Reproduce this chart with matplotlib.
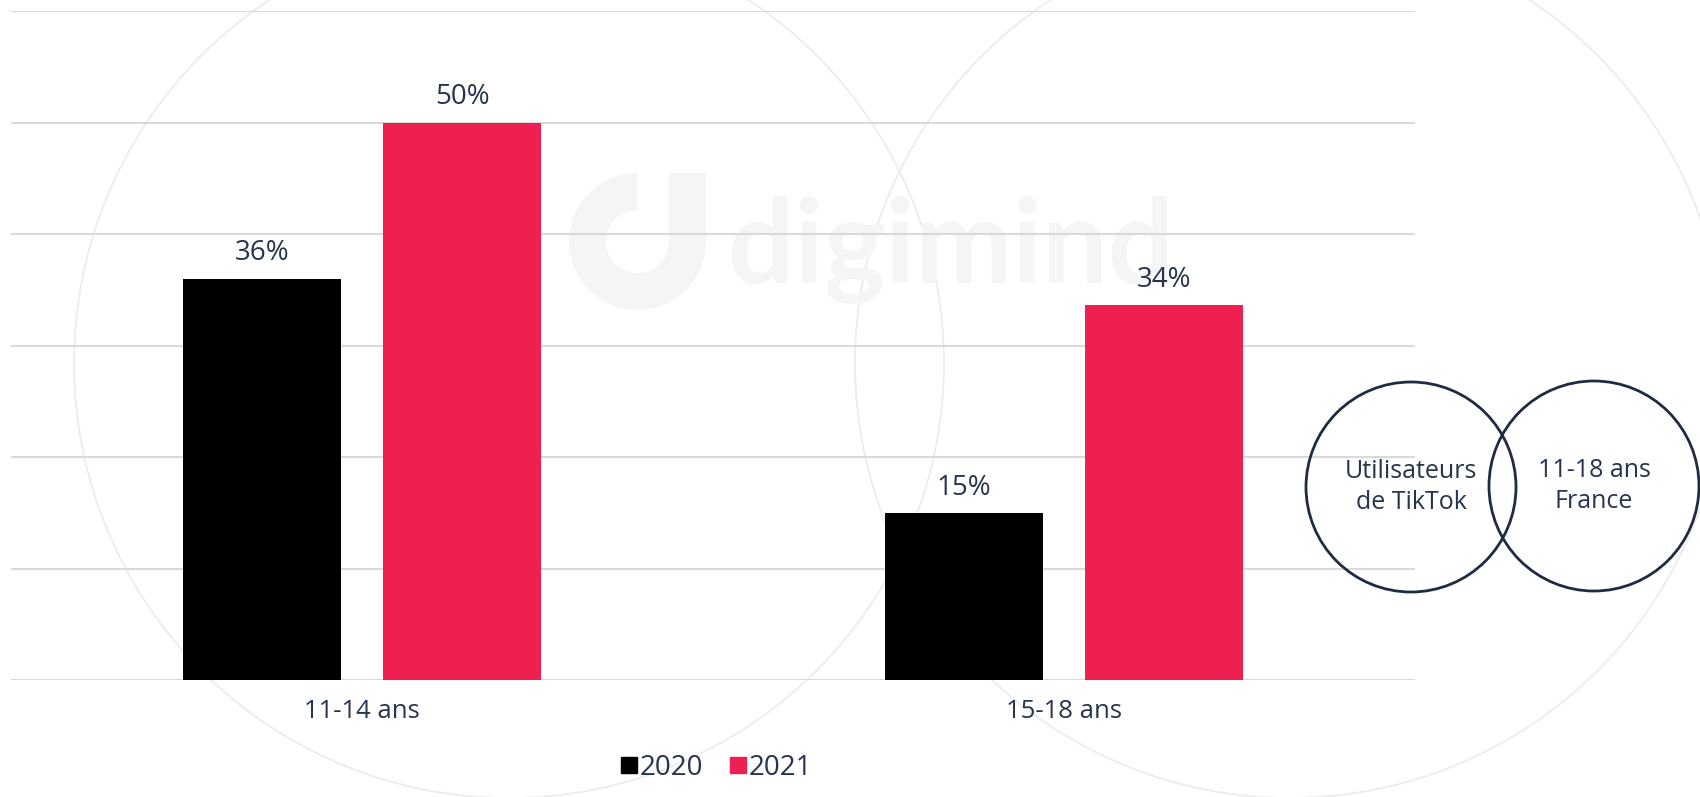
import numpy as np
import matplotlib.pyplot as plt
from matplotlib.patches import Circle, Wedge, Rectangle
from matplotlib.lines import Line2D

# Données
categories = ['11-14 ans', '15-18 ans']
series = ['2020', '2021']
valeurs_2020 = [36, 15]
valeurs_2021 = [50, 33.6]
etiquettes_2020 = ['36%', '15%']
etiquettes_2021 = ['50%', '34%']
venn_textes = ['Utilisateurs\nde TikTok', '11-18 ans\nFrance']

couleur_2020 = '#000000'
couleur_2021 = '#EE1F51'
couleur_texte = '#26344D'
couleur_grille = '#D9D9D9'

plt.rcParams['font.family'] = ['Open Sans', 'DejaVu Sans']

W, H = 1700, 797
fig = plt.figure(figsize=(W / 100, H / 100), dpi=100)

# Calque de fond en coordonnées pixels (filigrane + grands cercles)
bg = fig.add_axes([0, 0, 1, 1], zorder=0)
bg.set_xlim(0, W)
bg.set_ylim(H, 0)
bg.axis('off')

couleur_filigrane = '#F5F5F5'
cx, cy = 637.5, 241.5
bg.add_patch(Wedge((cx, cy), 68.5, 0, 270, width=37, facecolor=couleur_filigrane, edgecolor='none'))
bg.add_patch(Rectangle((cx + 31.5, cy - 68.5), 37, 68.5, facecolor=couleur_filigrane, edgecolor='none'))
bg.text(728, 283, 'digimind', fontsize=84, color=couleur_filigrane, ha='left', va='baseline',
        family=['Lato', 'DejaVu Sans'], fontweight='bold')

for centre in [(509, 363), (1290, 363)]:
    bg.add_patch(Circle(centre, 435, fill=False, edgecolor='#ECECEC', linewidth=1.3))

# Graphique principal
ax = fig.add_axes([11 / W, 117 / H, 1404 / W, 669 / H], zorder=1)
ax.patch.set_alpha(0)

x = np.arange(len(categories))
largeur = 0.224
decalage = 0.1426

barres1 = ax.bar(x - decalage, valeurs_2020, largeur, color=couleur_2020, zorder=3)
barres2 = ax.bar(x + decalage, valeurs_2021, largeur, color=couleur_2021, zorder=3)

for barres, etiquettes in [(barres1, etiquettes_2020), (barres2, etiquettes_2021)]:
    for b, lab in zip(barres, etiquettes):
        ax.annotate(lab, (b.get_x() + b.get_width() / 2, b.get_height()),
                    xytext=(0, 8), textcoords='offset points',
                    ha='center', va='bottom', fontsize=20, color=couleur_texte)

ax.set_xlim(-0.5, 1.5)
ax.set_ylim(0, 60)
ax.set_yticks(np.arange(0, 61, 10))
ax.yaxis.grid(True, color=couleur_grille, linewidth=1.5, zorder=0)
ax.set_axisbelow(True)
ax.set_yticklabels([])
ax.tick_params(axis='y', length=0)
ax.set_xticks(x)
ax.set_xticklabels(categories, fontsize=18.5, color=couleur_texte)
ax.tick_params(axis='x', length=0, pad=14)
for s in ax.spines.values():
    s.set_visible(False)

# Légende
poignees = [Line2D([], [], marker='s', linestyle='none', markersize=12, color=c)
            for c in [couleur_2020, couleur_2021]]
fig.legend(poignees, series, loc='center', bbox_to_anchor=(717 / W, 1 - 768 / H),
           ncol=2, frameon=False, fontsize=20, handlelength=0.5, handletextpad=0.15,
           columnspacing=1.0, labelcolor=couleur_texte)

# Diagramme de Venn
venn = fig.add_axes([0, 0, 1, 1], zorder=2)
venn.set_xlim(0, W)
venn.set_ylim(H, 0)
venn.axis('off')
for (vx, vy), txt in zip([(1411, 487), (1594, 486)], venn_textes):
    venn.add_patch(Circle((vx, vy), 105, fill=False, edgecolor='#1E2B42', linewidth=2))
    venn.text(vx, vy, txt, ha='center', va='center', fontsize=18, color=couleur_texte,
              linespacing=1.3)

fig.savefig('out.png', dpi=100)
